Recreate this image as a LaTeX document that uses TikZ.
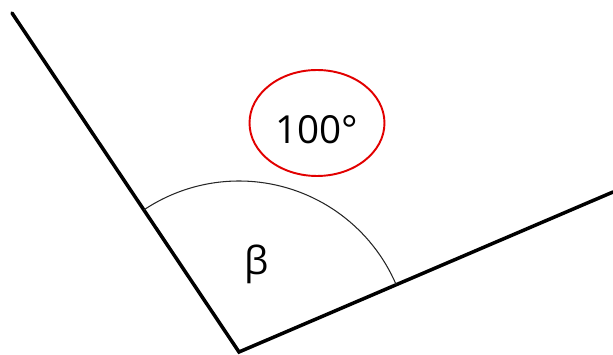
\documentclass[tikz,border=0pt]{standalone}
\usepackage{fontspec}
\setmainfont{Open Sans}
\usetikzlibrary{calc,shapes.geometric}
\definecolor{angleRed}{RGB}{226,0,0}
\tikzset{
  ray/.style={draw=black, line width=2pt, line cap=round, line join=miter},
  anglearc/.style={draw=black!85, line width=0.6pt},
  degreering/.style={ellipse, draw=angleRed, line width=1.1pt,
    minimum width=2.7cm, minimum height=2.12cm, inner sep=0pt,
    text height=0.84cm, text depth=0pt, font=\fontsize{22}{26}\selectfont},
  anglename/.style={font=\fontsize{22}{26}\selectfont}
}

\begin{document}
\begin{tikzpicture}[x=0.02cm,y=0.02cm]
    \useasboundingbox (0,0) rectangle (613,355);
    \coordinate (vtx) at (239,3);
    \coordinate (left) at (12,342);
    \coordinate (right) at (613,163);
    \draw[ray] (left) -- (vtx) -- (right);
    \coordinate (arcstart) at ($(vtx)+(23.2:171)$);
    \draw[anglearc] (arcstart) arc[start angle=23.2, end angle=123.8, radius=171];
    \node[anglename] (beta) at (257,91) {β};
    \node[degreering] (deg) at (317,232) {100°};
  \end{tikzpicture}
\end{document}
